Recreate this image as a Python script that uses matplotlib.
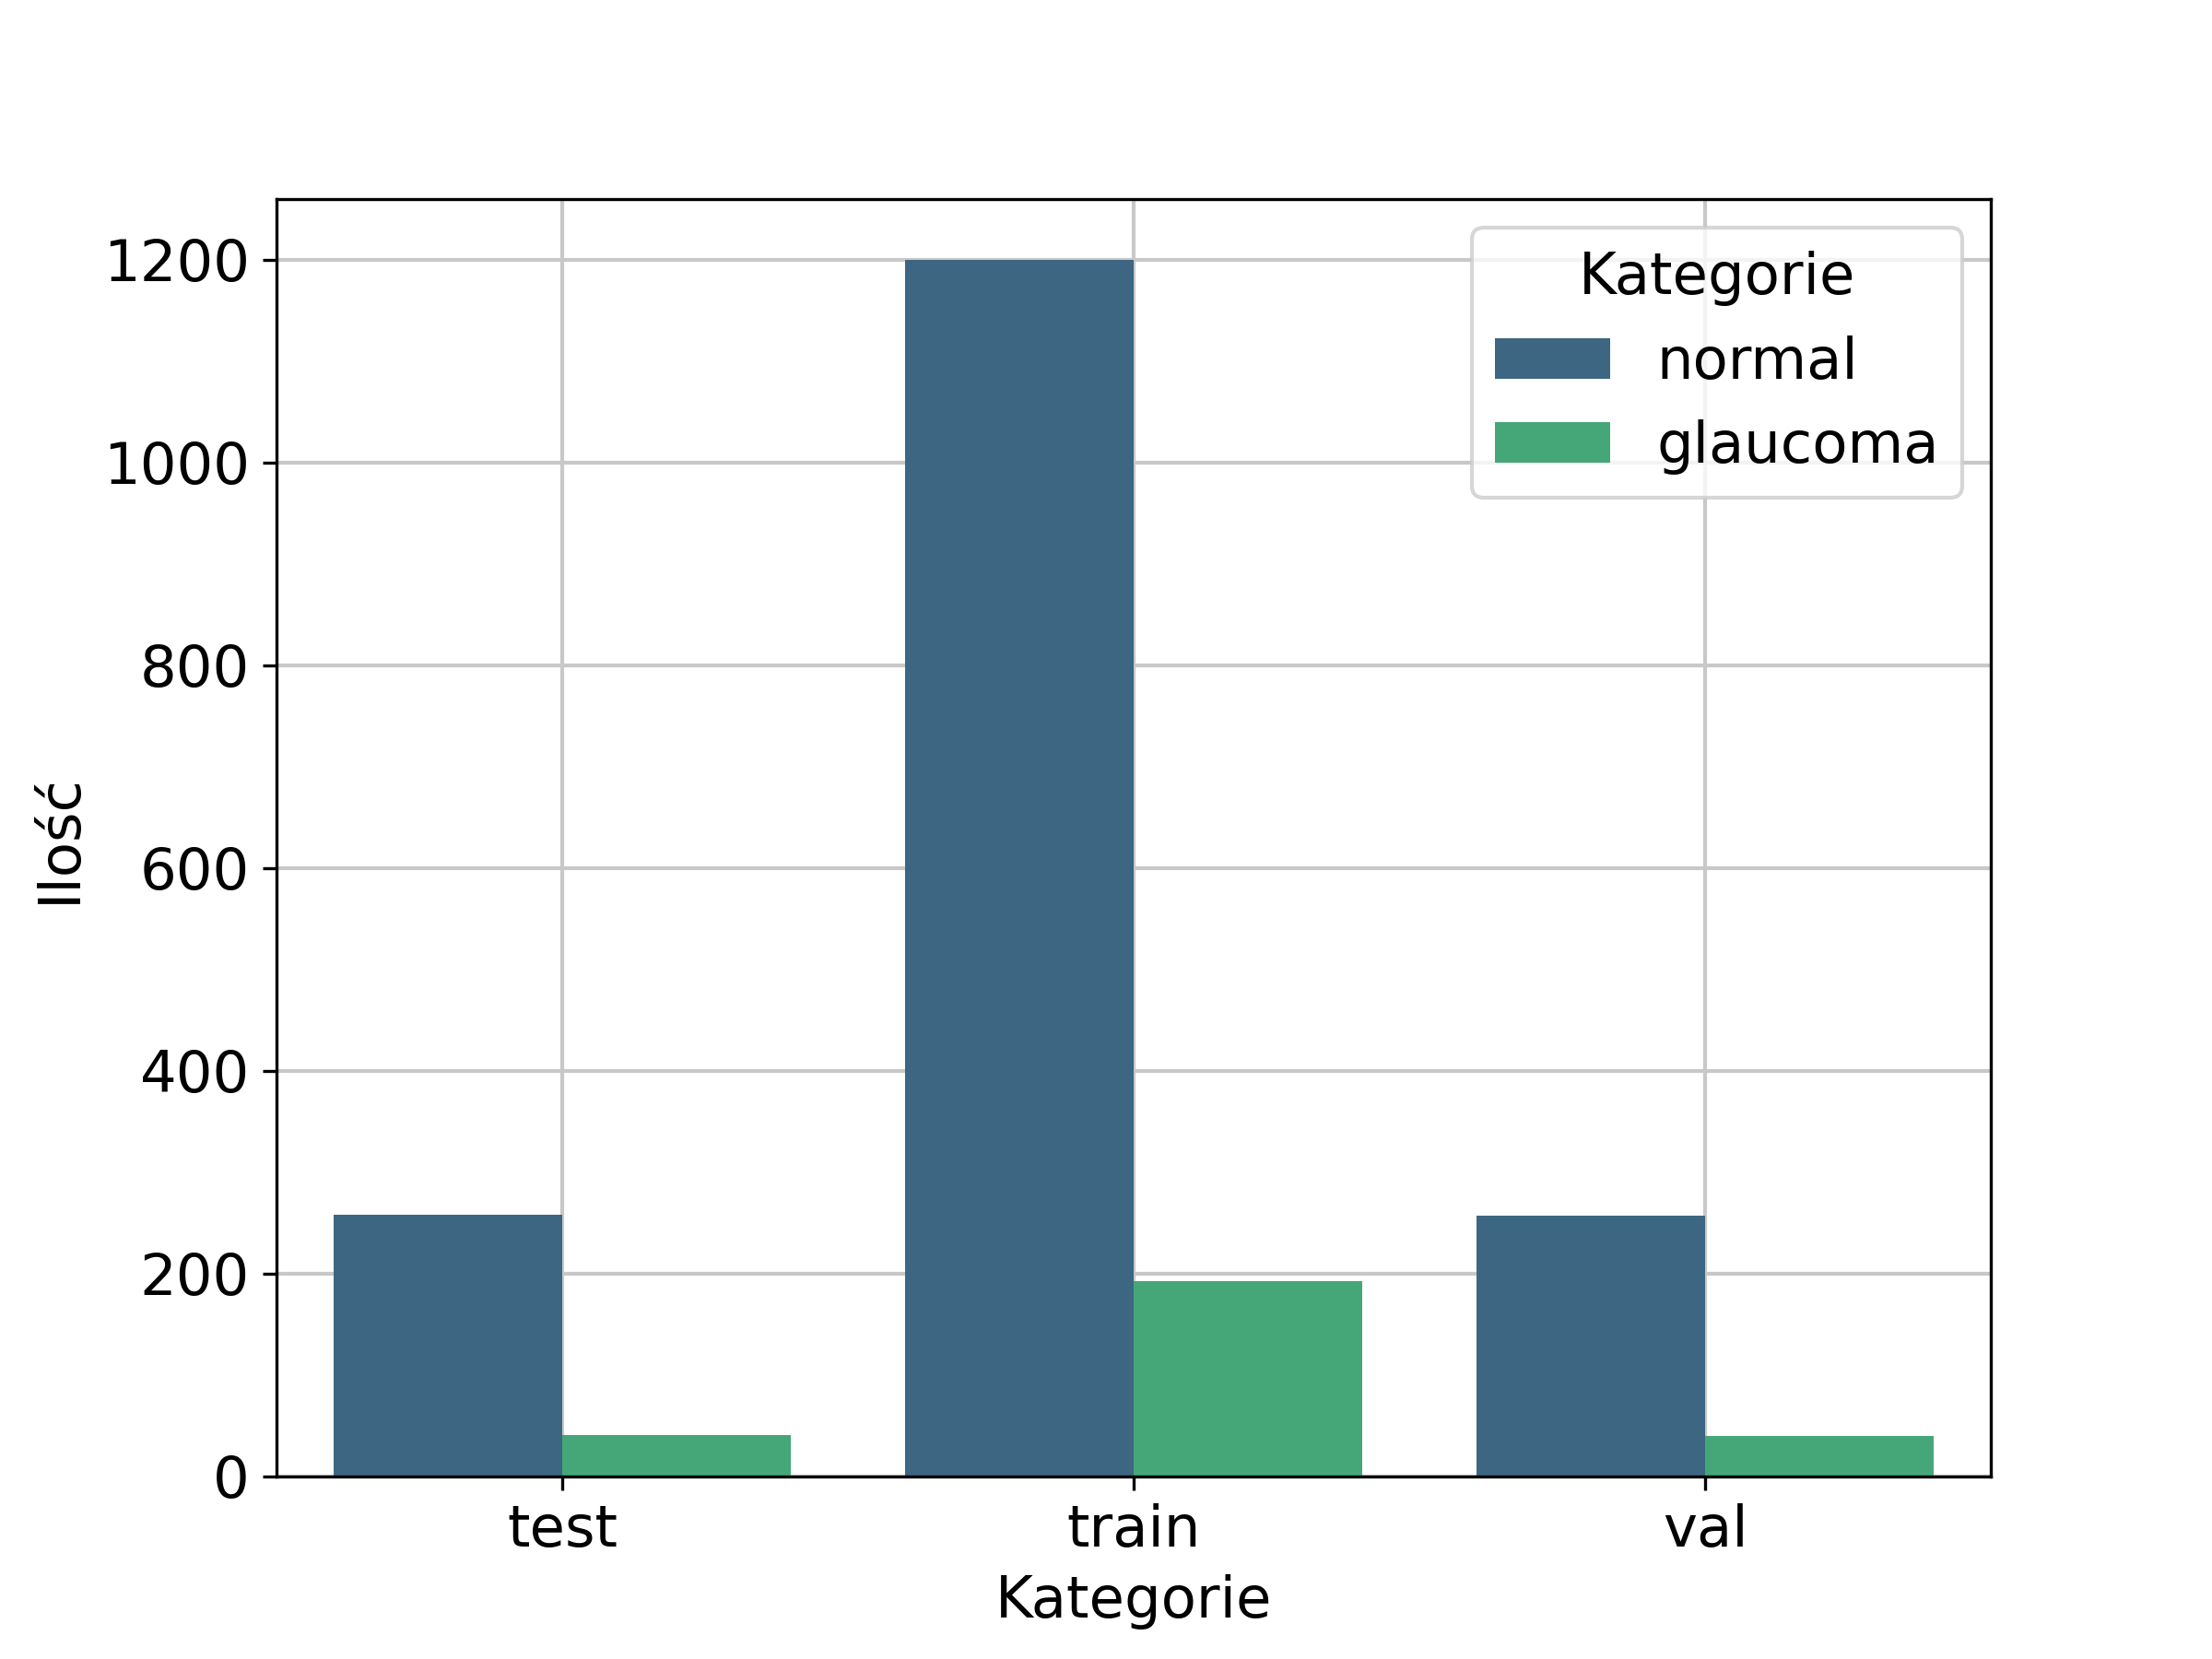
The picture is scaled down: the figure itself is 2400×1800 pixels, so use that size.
import matplotlib
matplotlib.use("Agg")
import matplotlib.pyplot as plt
import pandas as pd
import seaborn as sns

# data
splits = ["test", "train", "val"]
normal_counts = [258, 1200, 257]
glaucoma_counts = [41, 193, 40]
classes = ["normal", "glaucoma"]

plt.rcParams['font.size'] = 15

df = pd.DataFrame({
    "split": splits * 2,
    "count": normal_counts + glaucoma_counts,
    "klasa": [classes[0]] * len(splits) + [classes[1]] * len(splits),
})

fig, ax = plt.subplots(figsize=(8, 6), dpi=300)
sns.barplot(data=df, x="split", y="count", hue="klasa", palette="viridis", ax=ax)

ax.grid(True, color='#c8c8c8', linewidth=1.0)
ax.set_axisbelow(True)
ax.set_xlabel("Kategorie")
ax.set_ylabel("Ilość")
ax.legend(title="Kategorie", loc="upper right")

plt.savefig("out.png", dpi=300)
